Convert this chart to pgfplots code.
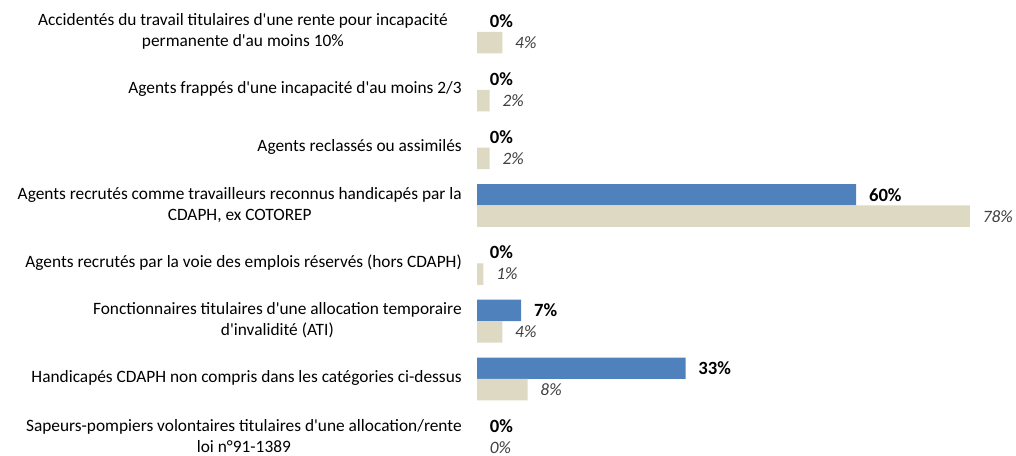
\documentclass[border=0pt]{standalone}
\usepackage{fontspec}
\setmainfont{Carlito}[Ligatures=TeXOff]
\usepackage{pgfplots}
\usepackage{pgfplotstable}
\pgfplotsset{compat=1.18}
\definecolor{barblue}{RGB}{79,129,189}
\definecolor{barbeige}{RGB}{221,217,195}
\definecolor{labgray}{RGB}{64,64,64}

% cat = position from top, agents = blue series, ref = beige series
\pgfplotstableread{
cat agents ref
1 0 4
2 0 2
3 0 2
4 60 78
5 0 1
6 7 4
7 33 8
8 0 0
}\datatable

\begin{document}
\begin{tikzpicture}
\path[use as bounding box] (0,0) rectangle (762pt,341.25pt);
\begin{axis}[
    at={(357.75pt,0pt)}, anchor=south west,
    scale only axis, width=404.25pt, height=341.25pt,
    xbar=0pt, bar width=16.1pt,
    xmin=0, xmax=85.3,
    ymin=0.447, ymax=8.315, y dir=reverse,
    ytick={1,...,8},
    yticklabels={
      {\hspace*{10.5pt}Accidentés du travail titulaires d'une rente pour incapacité\hspace*{10.5pt}\\permanente d'au moins 10\%},
      {Agents frappés d'une incapacité d'au moins 2/3},
      {Agents reclassés ou assimilés},
      {Agents recrutés comme travailleurs reconnus handicapés par la\\CDAPH, ex COTOREP},
      {Agents recrutés par la voie des emplois réservés (hors CDAPH)},
      {Fonctionnaires titulaires d'une allocation temporaire\\d'invalidité (ATI)},
      {Handicapés CDAPH non compris dans les catégories ci-dessus},
      {Sapeurs-pompiers volontaires titulaires d'une allocation/rente\\loi n°91-1389}},
    xtick=\empty,
    axis line style={draw=none},
    major tick length=0pt,
    yticklabel style={font=\fontsize{13}{15.5}\selectfont, align=center,
      inner sep=0pt, xshift=-11.25pt, yshift=0.5pt, text=black},
    /pgf/number format/assume math mode=true,
    clip=false,
    lbl/.style={draw=none, fill=none, point meta=x,
      nodes near coords={\pgfmathprintnumber{\pgfplotspointmeta}\%},
      every node near coord/.append style={anchor=west, inner sep=0pt, xshift=9.5pt}},
  ]
  % bars (zero values left out so no hairline is drawn)
  \addplot[fill=barblue, draw=none, bar shift=8.05pt,
    x filter/.expression={x==0 ? nan : x}]
    table[x=agents, y=cat] {\datatable};
  \addplot[fill=barbeige, draw=none, bar shift=-8.05pt,
    x filter/.expression={x==0 ? nan : x}]
    table[x=ref, y=cat] {\datatable};
  % value labels
  \addplot[lbl, bar shift=8.05pt,
    every node near coord/.append style={font=\fontsize{14}{16}\selectfont\bfseries, text=black}]
    table[x=agents, y=cat] {\datatable};
  \addplot[lbl, bar shift=-8.05pt,
    every node near coord/.append style={font=\fontsize{13}{15}\selectfont\itshape, text=labgray}]
    table[x=ref, y=cat] {\datatable};
\end{axis}
\end{tikzpicture}
\end{document}
